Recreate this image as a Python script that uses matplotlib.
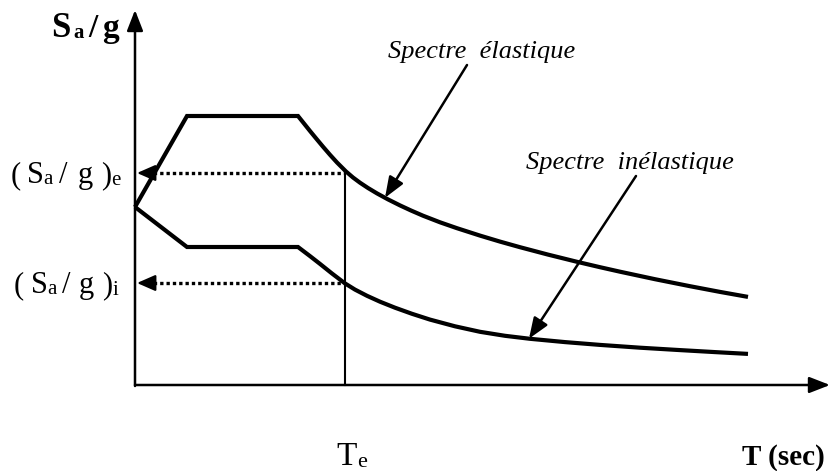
import matplotlib
matplotlib.use("Agg")
import matplotlib.pyplot as plt
import numpy as np

# ---- data (schematic units: T horizontal, Sa/g vertical) ----
T_el = [0.00, 0.52, 1.63, 1.69, 1.75, 1.81, 1.88, 1.95, 2.02, 2.11, 2.18, 2.25, 2.33, 2.42,
        2.53, 2.65, 2.76, 2.88, 3.05, 3.22, 3.45, 3.65, 3.85, 4.13, 4.42, 4.65, 4.85, 5.20,
        5.55, 5.85, 6.13]
Sa_el = [1.780, 2.690, 2.690, 2.615, 2.540, 2.467, 2.383, 2.302, 2.225, 2.135, 2.075, 2.023,
         1.970, 1.916, 1.856, 1.796, 1.745, 1.693, 1.627, 1.568, 1.494, 1.434, 1.378, 1.304,
         1.232, 1.178, 1.133, 1.058, 0.988, 0.931, 0.881]

T_in = [0.00, 0.52, 1.63, 1.75, 1.85, 1.97, 2.10, 2.20, 2.32, 2.45, 2.60, 2.77, 2.95, 3.20,
        3.45, 3.70, 3.95, 4.30, 4.65, 5.05, 5.45, 5.80, 6.13]
Sa_in = [1.780, 1.380, 1.380, 1.289, 1.211, 1.115, 1.016, 0.954, 0.892, 0.833, 0.773, 0.712,
         0.654, 0.587, 0.532, 0.492, 0.462, 0.429, 0.401, 0.373, 0.349, 0.329, 0.311]

Te = 2.10
Sa_e = 2.12
Sa_i = 1.02
T_axis_end = 6.95
Sa_axis_end = 3.75

W, H = 834, 471
fig = plt.figure(figsize=(W / 100, H / 100), dpi=100)
ax = fig.add_axes([0, 0, 1, 1])
ax.set_xlim(-1.35, 6.99)
ax.set_ylim(-0.86, 3.85)
ax.axis("off")

SERIF = ["Liberation Serif", "DejaVu Serif"]
HEAD = "-|>,head_length=0.9,head_width=0.35"

# axes with arrows
ax.annotate("", xy=(T_axis_end, 0), xytext=(0, 0),
            arrowprops=dict(arrowstyle=HEAD, lw=1.8, color="black",
                            shrinkA=0, shrinkB=0, mutation_scale=14))
ax.annotate("", xy=(0, Sa_axis_end), xytext=(0, -0.01),
            arrowprops=dict(arrowstyle=HEAD, lw=1.8, color="black",
                            shrinkA=0, shrinkB=0, mutation_scale=14))

# spectra
ax.plot(T_el, Sa_el, color="black", lw=3.0, solid_joinstyle="miter", solid_capstyle="butt")
ax.plot(T_in, Sa_in, color="black", lw=3.0, solid_joinstyle="miter", solid_capstyle="butt")

# Te vertical line
ax.plot([Te, Te], [0, Sa_e], color="black", lw=1.5)

# dotted arrows to the Sa axis
for s in (Sa_e, Sa_i):
    ax.plot([0.12, Te], [s, s], color="black", lw=2.4, dashes=(1.0, 0.9), solid_capstyle="butt")
    ax.annotate("", xy=(0.02, s), xytext=(0.14, s),
                arrowprops=dict(arrowstyle="-|>,head_length=0.8,head_width=0.35", lw=1.6,
                                color="black", shrinkA=0, shrinkB=0, mutation_scale=14))

# annotation arrows
tip_el = (2.50, float(np.interp(2.50, T_el, Sa_el)))
tip_in = (3.94, float(np.interp(3.94, T_in, Sa_in)))
ax.annotate("", xy=tip_el, xytext=(3.32, 3.20),
            arrowprops=dict(arrowstyle=HEAD, lw=1.8, color="black",
                            shrinkA=0, shrinkB=0, mutation_scale=14))
ax.annotate("", xy=tip_in, xytext=(5.01, 2.09),
            arrowprops=dict(arrowstyle=HEAD, lw=1.8, color="black",
                            shrinkA=0, shrinkB=0, mutation_scale=14))


def put(x_px, y_px, s, size, weight="normal", style="normal"):
    fig.text(x_px / W, 1 - y_px / H, s, fontsize=size, fontweight=weight, fontstyle=style,
             family=SERIF, ha="left", va="baseline")


# italic labels
put(388, 58, "Spectre  élastique", 19, style="italic")
put(526, 169, "Spectre  inélastique", 19, style="italic")

# y-axis title (bold)
put(51, 37, "S", 25, weight="bold")
put(73, 38, "a", 15, weight="bold")
put(88, 37, "/", 24, weight="bold")
put(102, 37, "g", 24, weight="bold")

# (Sa/g)e
put(11, 183, "(", 22)
put(27, 183, "S", 22)
put(43, 184, "a", 15)
put(59, 183, "/", 22)
put(78, 183, "g", 22)
put(101, 183, ")", 22)
put(111, 185, "e", 15)

# (Sa/g)i
put(14, 293, "(", 22)
put(31, 293, "S", 22)
put(47, 294, "a", 15)
put(62, 293, "/", 22)
put(79, 293, "g", 22)
put(102, 293, ")", 22)
put(113, 295, "i", 15)

# Te
put(336, 465, "T", 24)
put(357, 467, "e", 16)

# T (sec)
put(742, 465, "T (sec)", 21, weight="bold")

fig.savefig("out.png", dpi=100)
